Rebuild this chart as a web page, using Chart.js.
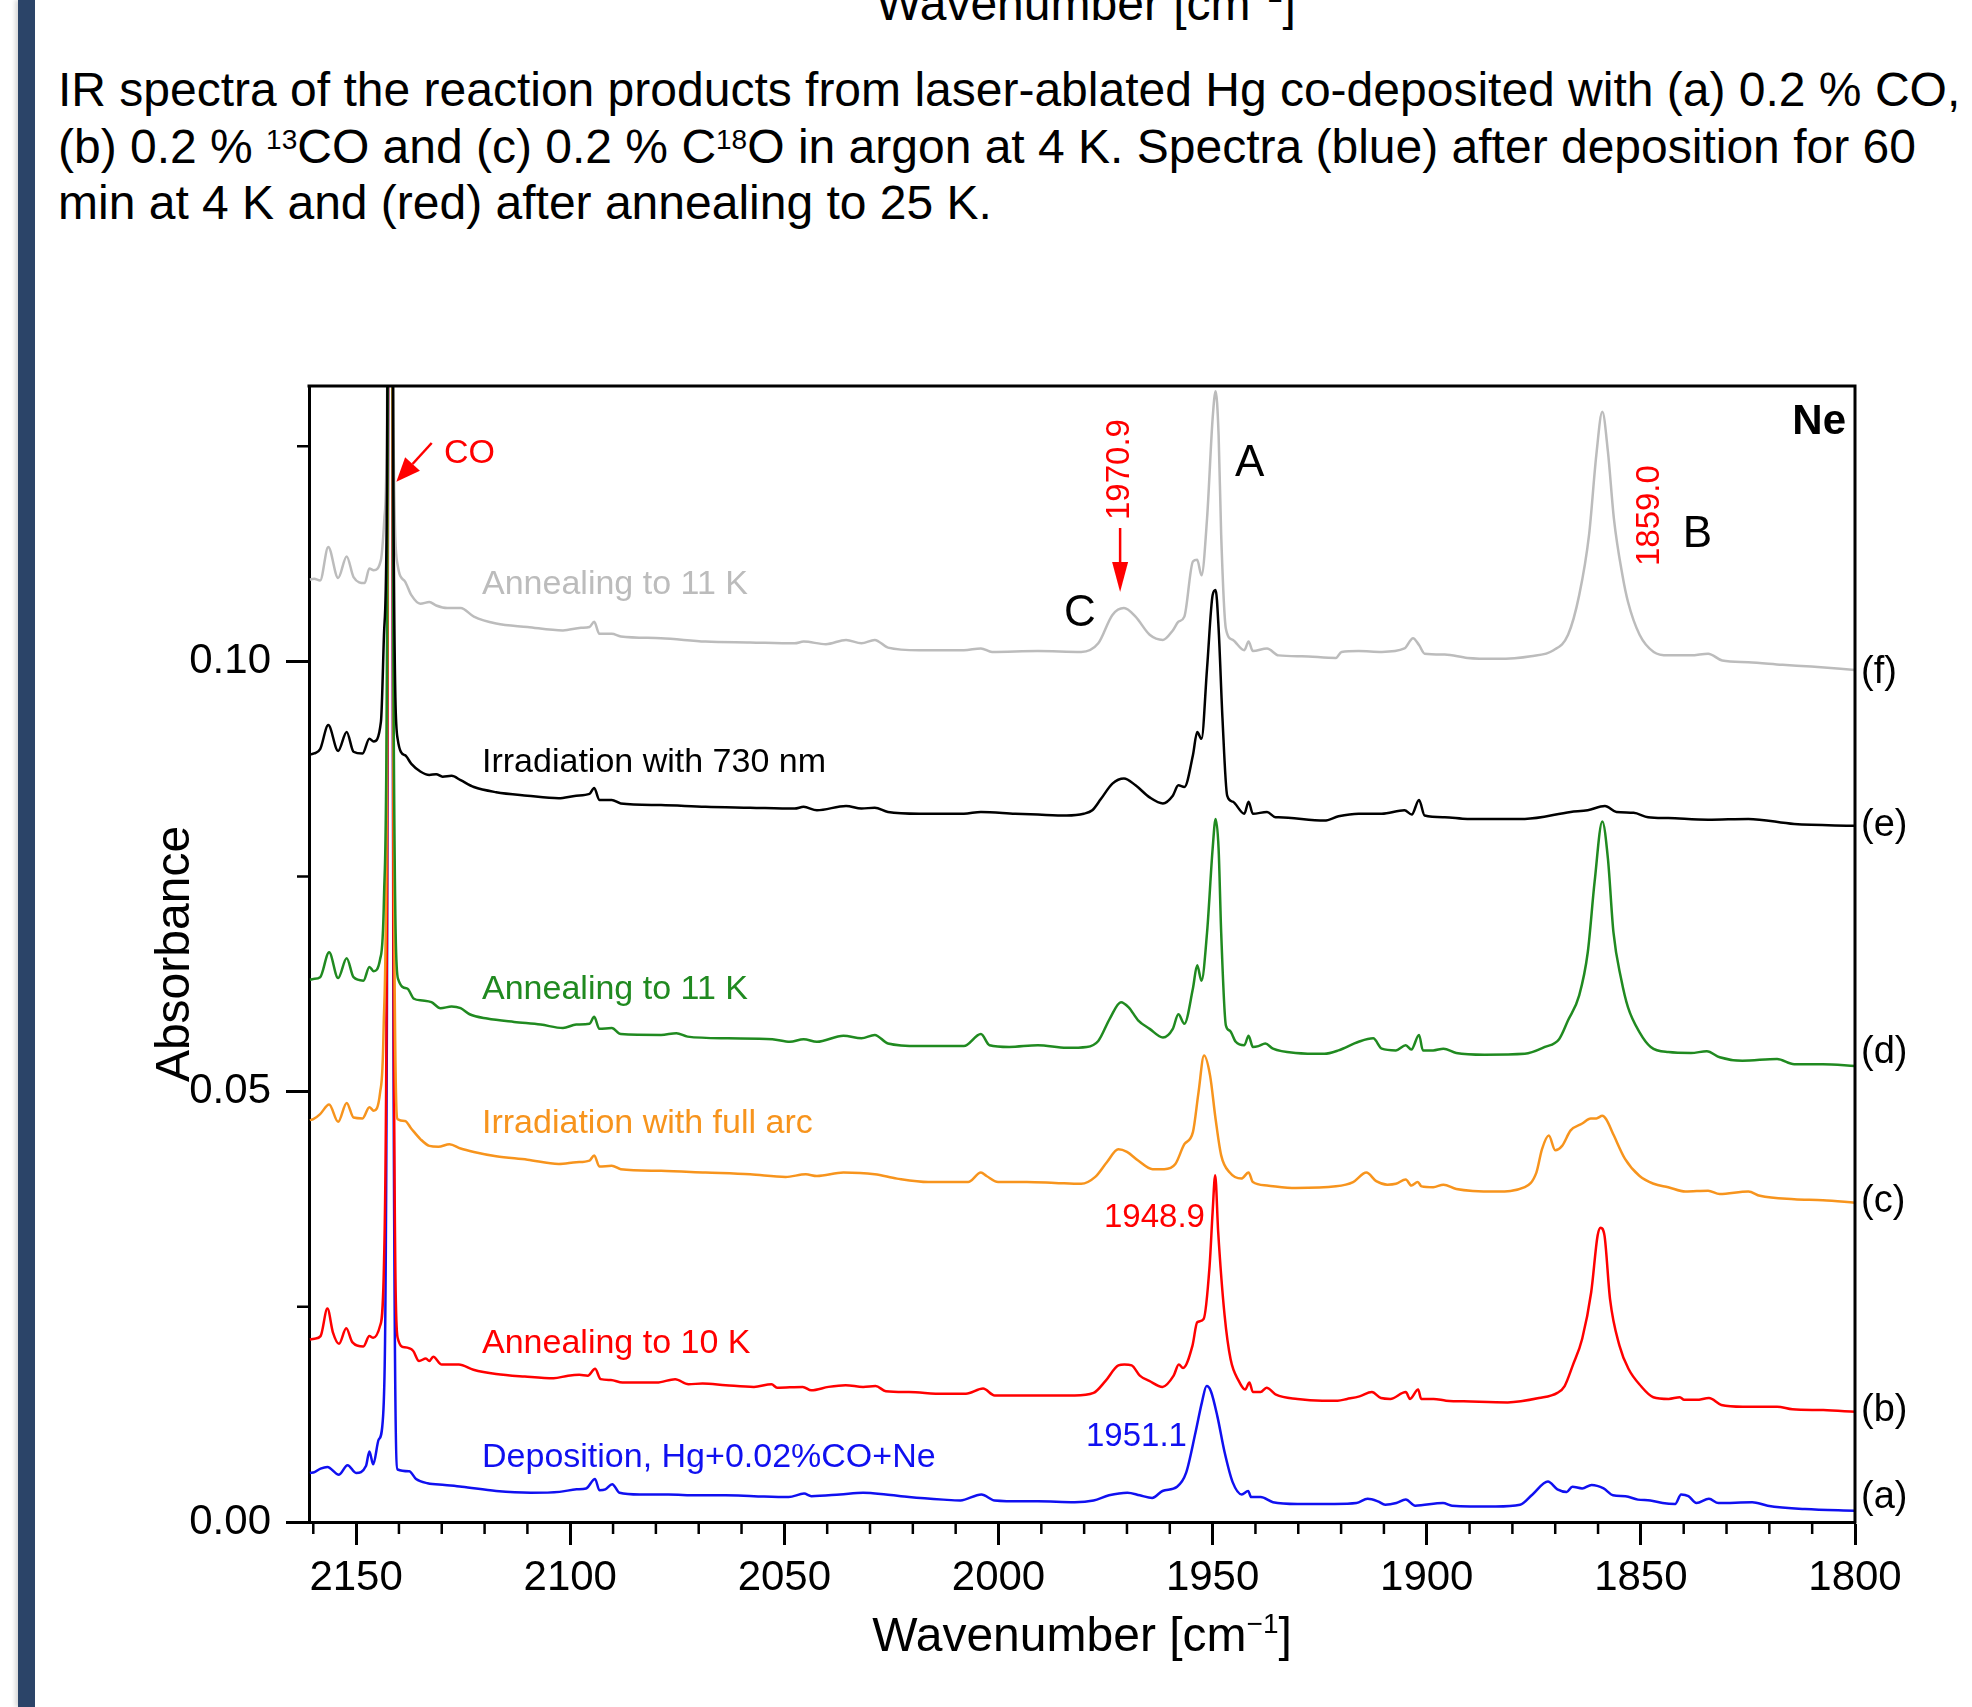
<!DOCTYPE html>
<html lang="en">
<head>
<meta charset="utf-8">
<title>IR spectra Hg + CO / Ne</title>
<script src="https://cdn.jsdelivr.net/npm/chart.js@4.4.1/dist/chart.umd.min.js"></script>
<style>
  html, body { margin: 0; padding: 0; background: #fff; }
  body {
    width: 1972px; height: 1707px;
    position: relative; overflow: hidden;
    font-family: "Liberation Sans", Arial, sans-serif;
    color: #000;
  }
  /* barra oscura del borde izquierdo */
  .barra-lateral {
    position: absolute; left: 18px; top: 0;
    width: 17px; height: 1707px;
    background: #2b4468;
    box-shadow: -3px 0 4px rgba(0,0,0,0.15);
  }
  /* título de la figura anterior, cortado arriba */
  .titulo-cortado {
    position: absolute; top: -20px; left: 1086px;
    transform: translateX(-50%);
    font-size: 48px; line-height: 48px; white-space: nowrap;
  }
  .pie-figura {
    position: absolute; left: 58px; top: 62px;
    font-size: 48px; line-height: 56.5px; white-space: nowrap;
  }
  .sup { font-size: 28px; line-height: 0; position: relative; top: -14px; }
  .sup-titulo { font-size: 28px; line-height: 0; position: relative; top: -18px; }
  #grafica { position: absolute; left: 0; top: 0; }
</style>
</head>
<body>

<div class="barra-lateral"></div>
<div class="titulo-cortado">Wavenumber [cm<span class="sup-titulo">−1</span>]</div>
<div class="pie-figura">IR spectra of the reaction products from laser-ablated Hg co-deposited with (a) 0.2 % CO,<br>(b) 0.2 % <span class="sup">13</span>CO and (c) 0.2 % C<span class="sup">18</span>O in argon at 4 K. Spectra (blue) after deposition for 60<br>min at 4 K and (red) after annealing to 25 K.</div>

<canvas id="grafica" width="1972" height="1707"></canvas>

<script>
// =============================================
// Datos: [número de onda (cm-1), absorbancia]
// =============================================

// (a) Deposition, Hg+0.02%CO+Ne
var specA = [
  [2160.8, 0.0057], [2159.7, 0.0058], [2158.3, 0.0062], [2156.7, 0.0064], [2154.0, 0.0055],
  [2152.0, 0.0066], [2150.0, 0.0057], [2147.7, 0.0065], [2146.9, 0.0082], [2146.0, 0.0067],
  [2144.7, 0.0096], [2143.7, 0.0123], [2142.8, 0.060], [2142.0, 0.25], [2141.3, 0.060],
  [2140.3, 0.0061], [2137.6, 0.0059], [2136.0, 0.0050], [2133.3, 0.0045], [2129.3, 0.0043],
  [2125.3, 0.0041], [2117.3, 0.0036], [2109.2, 0.0034], [2102.5, 0.0035], [2098.5, 0.0038],
  [2096.3, 0.0039], [2094.2, 0.0050], [2093.2, 0.0037], [2091.8, 0.0038], [2090.2, 0.0044],
  [2088.5, 0.0034], [2083.8, 0.0032], [2077.1, 0.0032], [2070.4, 0.0031], [2063.7, 0.0031],
  [2057.1, 0.0030], [2049.0, 0.0029], [2045.4, 0.0033], [2043.7, 0.0030], [2037.0, 0.0032],
  [2031.6, 0.0034], [2026.3, 0.0032], [2020.9, 0.0029], [2012.9, 0.0026], [2008.9, 0.0025],
  [2004.0, 0.0032], [2000.9, 0.0025], [1994.2, 0.0024], [1990.8, 0.0024], [1982.2, 0.0023],
  [1977.8, 0.0025], [1974.2, 0.0031], [1969.9, 0.0034], [1967.0, 0.0031], [1964.1, 0.0028],
  [1961.7, 0.0036], [1958.3, 0.0041], [1956.2, 0.0057], [1954.0, 0.0104], [1952.5, 0.0139],
  [1951.4, 0.0158], [1950.4, 0.0152], [1948.9, 0.0123], [1947.2, 0.0081], [1945.3, 0.0046],
  [1943.2, 0.0032], [1941.7, 0.0036], [1941.0, 0.0029], [1938.8, 0.0029], [1935.9, 0.0023],
  [1930.2, 0.0021], [1921.5, 0.0021], [1916.4, 0.0022], [1913.8, 0.0027], [1911.4, 0.0024],
  [1909.7, 0.0020], [1907.1, 0.0022], [1904.9, 0.0026], [1902.7, 0.0019], [1896.2, 0.0022],
  [1894.1, 0.0019], [1883.9, 0.0018], [1878.2, 0.0020], [1875.3, 0.0032], [1871.7, 0.0047],
  [1869.5, 0.0038], [1867.3, 0.0035], [1866.0, 0.0041], [1863.7, 0.0039], [1861.5, 0.0043],
  [1858.7, 0.0039], [1856.5, 0.0031], [1853.6, 0.0030], [1850.7, 0.0026], [1847.8, 0.0025],
  [1844.9, 0.0022], [1842.0, 0.0021], [1840.6, 0.0032], [1838.9, 0.0030], [1837.0, 0.0022],
  [1834.1, 0.0027], [1831.9, 0.0022], [1824.0, 0.0023], [1820.4, 0.0019], [1811.7, 0.0015],
  [1800.0, 0.0013]
];

// (b) Annealing to 10 K
var specB = [
  [2160.8, 0.0212], [2159.7, 0.0213], [2158.3, 0.0216], [2156.7, 0.0248], [2155.4, 0.0220],
  [2154.0, 0.0207], [2152.3, 0.0225], [2150.9, 0.0209], [2148.3, 0.0204], [2146.9, 0.0216],
  [2146.0, 0.0214], [2144.4, 0.0228], [2143.5, 0.0298], [2142.8, 0.070], [2142.0, 0.25],
  [2141.3, 0.070], [2140.3, 0.0214], [2138.7, 0.0203], [2136.7, 0.0199], [2135.3, 0.0187],
  [2133.7, 0.0190], [2132.9, 0.0187], [2132.0, 0.0192], [2130.0, 0.0183], [2128.0, 0.0183],
  [2126.0, 0.0183], [2122.6, 0.0177], [2117.3, 0.0172], [2110.6, 0.0169], [2103.9, 0.0167],
  [2100.5, 0.0170], [2097.9, 0.0171], [2095.9, 0.0170], [2094.2, 0.0178], [2092.9, 0.0166],
  [2090.5, 0.0165], [2087.8, 0.0162], [2079.8, 0.0162], [2075.5, 0.0166], [2072.4, 0.0160],
  [2069.1, 0.0161], [2063.7, 0.0159], [2057.1, 0.0157], [2053.0, 0.0160], [2051.7, 0.0156],
  [2045.7, 0.0157], [2043.7, 0.0153], [2039.7, 0.0157], [2035.7, 0.0159], [2031.6, 0.0157],
  [2028.7, 0.0158], [2026.3, 0.0152], [2020.9, 0.0151], [2012.9, 0.0149], [2007.6, 0.0149],
  [2003.6, 0.0155], [2000.9, 0.0147], [1994.2, 0.0147], [1990.8, 0.0147], [1982.2, 0.0147],
  [1977.8, 0.0150], [1975.0, 0.0164], [1972.0, 0.0182], [1970.6, 0.0183], [1968.9, 0.0182],
  [1967.0, 0.0170], [1964.8, 0.0164], [1961.7, 0.0157], [1959.1, 0.0170], [1957.9, 0.0183],
  [1956.9, 0.0179], [1954.7, 0.0205], [1953.6, 0.0232], [1952.1, 0.0236], [1950.7, 0.0298],
  [1950.0, 0.0360], [1949.4, 0.0403], [1948.7, 0.0337], [1947.2, 0.0240], [1945.8, 0.0189],
  [1943.9, 0.0164], [1942.4, 0.0154], [1941.4, 0.0162], [1940.6, 0.0151], [1938.8, 0.0151],
  [1937.4, 0.0156], [1935.2, 0.0148], [1930.2, 0.0143], [1924.4, 0.0141], [1920.8, 0.0141],
  [1918.6, 0.0143], [1915.7, 0.0146], [1912.8, 0.0151], [1910.7, 0.0144], [1908.5, 0.0143],
  [1904.9, 0.0151], [1903.9, 0.0143], [1902.0, 0.0154], [1901.3, 0.0143], [1898.4, 0.0143],
  [1895.5, 0.0141], [1889.7, 0.0140], [1881.1, 0.0139], [1873.8, 0.0144], [1869.5, 0.0150],
  [1867.8, 0.0158], [1865.9, 0.0182], [1863.7, 0.0213], [1861.6, 0.0267], [1860.1, 0.0333],
  [1859.4, 0.0342], [1858.5, 0.0333], [1857.2, 0.0259], [1855.0, 0.0205], [1852.9, 0.0178],
  [1850.0, 0.0158], [1847.1, 0.0145], [1843.5, 0.0143], [1840.9, 0.0145], [1839.9, 0.0142],
  [1837.0, 0.0142], [1834.1, 0.0144], [1831.2, 0.0136], [1826.2, 0.0134], [1818.2, 0.0134],
  [1814.6, 0.0131], [1807.4, 0.0130], [1800.0, 0.0128]
];

// (c) Irradiation with full arc
var specC = [
  [2160.8, 0.0467], [2160.0, 0.0468], [2158.4, 0.0474], [2156.3, 0.0485], [2154.2, 0.0465],
  [2152.2, 0.0487], [2150.6, 0.0470], [2148.5, 0.0469], [2146.9, 0.0482], [2145.9, 0.0478],
  [2144.4, 0.0499], [2143.6, 0.0569], [2142.8, 0.090], [2142.0, 0.25], [2141.3, 0.090],
  [2140.3, 0.0468], [2138.6, 0.0466], [2137.1, 0.0457], [2135.0, 0.0445], [2132.9, 0.0437],
  [2130.8, 0.0436], [2128.2, 0.0439], [2125.6, 0.0434], [2122.5, 0.0430], [2117.3, 0.0425],
  [2110.0, 0.0421], [2102.7, 0.0416], [2098.6, 0.0418], [2095.5, 0.0420], [2094.4, 0.0426],
  [2093.2, 0.0413], [2090.3, 0.0414], [2088.2, 0.0410], [2078.8, 0.0408], [2068.4, 0.0406],
  [2058.0, 0.0404], [2049.7, 0.0401], [2045.0, 0.0404], [2042.4, 0.0402], [2036.2, 0.0406],
  [2028.9, 0.0404], [2023.7, 0.0399], [2016.4, 0.0395], [2007.1, 0.0395], [2004.1, 0.0406],
  [2002.8, 0.0402], [2000.1, 0.0395], [1993.4, 0.0395], [1986.8, 0.0394], [1980.7, 0.0393],
  [1977.4, 0.0401], [1974.7, 0.0418], [1972.0, 0.0433], [1970.0, 0.0430], [1967.4, 0.0420],
  [1964.0, 0.0410], [1961.3, 0.0410], [1958.7, 0.0416], [1956.6, 0.0439], [1954.6, 0.0453],
  [1953.3, 0.0499], [1952.0, 0.0542], [1950.6, 0.0519], [1949.3, 0.0468], [1948.0, 0.0426],
  [1946.0, 0.0406], [1943.3, 0.0399], [1941.6, 0.0406], [1940.6, 0.0395], [1937.3, 0.0391],
  [1930.6, 0.0388], [1921.2, 0.0390], [1917.2, 0.0395], [1914.1, 0.0406], [1911.8, 0.0396],
  [1909.2, 0.0392], [1907.2, 0.0393], [1904.9, 0.0398], [1903.6, 0.0391], [1902.1, 0.0395],
  [1901.2, 0.0390], [1898.5, 0.0389], [1896.1, 0.0392], [1893.1, 0.0387], [1883.8, 0.0384],
  [1877.1, 0.0389], [1874.4, 0.0406], [1873.1, 0.0433], [1871.5, 0.0449], [1870.0, 0.0432],
  [1868.4, 0.0437], [1866.4, 0.0455], [1863.7, 0.0463], [1861.7, 0.0469], [1860.4, 0.0469],
  [1859.0, 0.0472], [1858.1, 0.0468], [1856.3, 0.0449], [1853.7, 0.0422], [1850.3, 0.0402],
  [1847.0, 0.0393], [1843.6, 0.0389], [1839.6, 0.0384], [1834.3, 0.0385], [1831.6, 0.0381],
  [1824.9, 0.0384], [1822.2, 0.0379], [1814.2, 0.0375], [1807.5, 0.0374], [1800.0, 0.0371]
];

// (d) Annealing to 11 K
var specD = [
  [2160.8, 0.0630], [2160.0, 0.0631], [2158.4, 0.0633], [2156.3, 0.0662], [2154.2, 0.0632],
  [2152.2, 0.0655], [2150.6, 0.0633], [2148.3, 0.0629], [2146.9, 0.0645], [2145.9, 0.0640],
  [2144.4, 0.0654], [2143.5, 0.0724], [2142.8, 0.100], [2142.0, 0.25], [2141.3, 0.100],
  [2140.2, 0.0631], [2138.1, 0.0620], [2136.5, 0.0608], [2134.5, 0.0606], [2132.4, 0.0604],
  [2130.3, 0.0597], [2127.7, 0.0599], [2125.6, 0.0597], [2123.5, 0.0590], [2119.4, 0.0585],
  [2113.1, 0.0581], [2106.9, 0.0578], [2101.7, 0.0574], [2098.6, 0.0578], [2095.5, 0.0579],
  [2094.4, 0.0587], [2093.2, 0.0573], [2090.3, 0.0574], [2088.2, 0.0567], [2078.8, 0.0566],
  [2075.2, 0.0568], [2072.6, 0.0564], [2063.2, 0.0562], [2052.8, 0.0561], [2048.7, 0.0558],
  [2045.5, 0.0561], [2042.4, 0.0558], [2036.2, 0.0565], [2032.0, 0.0562], [2028.9, 0.0566],
  [2025.8, 0.0556], [2018.5, 0.0553], [2008.1, 0.0553], [2004.1, 0.0567], [2002.1, 0.0554],
  [1997.5, 0.0552], [1990.8, 0.0554], [1984.1, 0.0551], [1979.4, 0.0552], [1976.7, 0.0559],
  [1974.0, 0.0585], [1971.4, 0.0604], [1969.6, 0.0598], [1967.4, 0.0583], [1964.7, 0.0573],
  [1961.6, 0.0563], [1959.3, 0.0573], [1958.0, 0.0590], [1956.6, 0.0579], [1954.6, 0.0620],
  [1953.6, 0.0647], [1952.6, 0.0629], [1951.3, 0.0685], [1950.0, 0.0782], [1949.3, 0.0817],
  [1948.6, 0.0782], [1948.0, 0.0685], [1946.9, 0.0577], [1946.0, 0.0571], [1944.6, 0.0558],
  [1942.6, 0.0554], [1941.6, 0.0565], [1940.6, 0.0552], [1939.3, 0.0553], [1937.7, 0.0556],
  [1935.9, 0.0550], [1930.6, 0.0545], [1923.9, 0.0544], [1920.6, 0.0548], [1915.9, 0.0558],
  [1912.5, 0.0562], [1910.5, 0.0550], [1907.2, 0.0548], [1904.9, 0.0554], [1903.6, 0.0549],
  [1901.8, 0.0566], [1900.9, 0.0548], [1898.5, 0.0548], [1896.1, 0.0550], [1893.1, 0.0545],
  [1886.5, 0.0543], [1877.1, 0.0544], [1872.4, 0.0552], [1869.1, 0.0561], [1867.0, 0.0583],
  [1864.4, 0.0612], [1862.4, 0.0662], [1860.8, 0.0744], [1859.0, 0.0814], [1857.7, 0.0771],
  [1856.4, 0.0685], [1854.6, 0.0631], [1853.0, 0.0598], [1850.3, 0.0569], [1847.7, 0.0552],
  [1843.6, 0.0546], [1838.3, 0.0545], [1834.6, 0.0547], [1831.6, 0.0540], [1826.3, 0.0536],
  [1818.2, 0.0538], [1814.2, 0.0532], [1807.5, 0.0532], [1800.0, 0.0530]
];

// (e) Irradiation with 730 nm
var specE = [
  [2160.8, 0.0892], [2159.8, 0.0893], [2158.4, 0.0898], [2156.5, 0.0926], [2154.2, 0.0896],
  [2152.2, 0.0918], [2150.6, 0.0895], [2148.5, 0.0893], [2146.9, 0.0910], [2145.9, 0.0907],
  [2144.2, 0.0930], [2143.5, 0.1030], [2142.8, 0.120], [2142.0, 0.25], [2141.3, 0.120],
  [2140.3, 0.0910], [2138.6, 0.0891], [2137.1, 0.0881], [2135.0, 0.0872], [2132.9, 0.0868],
  [2131.3, 0.0869], [2129.8, 0.0866], [2127.7, 0.0867], [2125.6, 0.0862], [2122.5, 0.0854],
  [2117.3, 0.0848], [2110.0, 0.0844], [2102.7, 0.0841], [2098.6, 0.0844], [2095.5, 0.0846],
  [2094.4, 0.0853], [2093.2, 0.0839], [2090.3, 0.0839], [2088.2, 0.0835], [2078.8, 0.0833],
  [2068.4, 0.0831], [2058.0, 0.0830], [2047.6, 0.0829], [2045.5, 0.0831], [2042.4, 0.0827],
  [2035.6, 0.0832], [2032.0, 0.0829], [2028.9, 0.0830], [2025.8, 0.0825], [2018.5, 0.0823],
  [2008.1, 0.0823], [2004.1, 0.0825], [1996.1, 0.0823], [1990.8, 0.0822], [1984.1, 0.0821],
  [1980.1, 0.0823], [1978.1, 0.0827], [1976.1, 0.0840], [1973.4, 0.0858], [1970.7, 0.0864],
  [1968.0, 0.0856], [1964.7, 0.0842], [1961.6, 0.0835], [1959.3, 0.0844], [1958.0, 0.0856],
  [1956.6, 0.0854], [1954.6, 0.0891], [1953.6, 0.0918], [1952.6, 0.0910], [1951.3, 0.0992],
  [1950.0, 0.1077], [1949.3, 0.1083], [1948.6, 0.1038], [1947.7, 0.0934], [1946.6, 0.0844],
  [1945.3, 0.0837], [1942.6, 0.0823], [1941.6, 0.0837], [1940.6, 0.0823], [1937.3, 0.0825],
  [1935.3, 0.0819], [1934.6, 0.0819], [1923.9, 0.0815], [1920.6, 0.0820], [1915.9, 0.0823],
  [1910.5, 0.0823], [1905.2, 0.0827], [1903.5, 0.0822], [1901.8, 0.0839], [1900.5, 0.0821],
  [1895.8, 0.0819], [1890.5, 0.0817], [1877.1, 0.0817], [1866.4, 0.0825], [1862.4, 0.0827],
  [1858.4, 0.0832], [1855.7, 0.0825], [1851.7, 0.0824], [1848.3, 0.0819], [1843.6, 0.0818],
  [1834.3, 0.0816], [1824.9, 0.0817], [1814.2, 0.0811], [1800.0, 0.0809]
];

// (f) Annealing to 11 K (gris)
var specF = [
  [2160.8, 0.1095], [2159.8, 0.1096], [2158.4, 0.1094], [2156.5, 0.1133], [2154.2, 0.1097],
  [2152.2, 0.1122], [2150.6, 0.1098], [2148.0, 0.1091], [2146.9, 0.1108], [2145.9, 0.1106],
  [2144.2, 0.1118], [2143.4, 0.1166], [2142.8, 0.128], [2142.0, 0.25], [2141.3, 0.128],
  [2140.3, 0.1112], [2138.6, 0.1093], [2137.1, 0.1077], [2135.0, 0.1067], [2132.9, 0.1069],
  [2131.3, 0.1065], [2128.7, 0.1062], [2125.6, 0.1062], [2122.5, 0.1052], [2117.3, 0.1044],
  [2110.0, 0.1040], [2101.7, 0.1036], [2097.5, 0.1039], [2095.5, 0.1040], [2094.4, 0.1046],
  [2093.2, 0.1032], [2090.3, 0.1032], [2088.2, 0.1029], [2078.8, 0.1027], [2068.4, 0.1023],
  [2058.0, 0.1022], [2047.6, 0.1021], [2045.5, 0.1023], [2040.3, 0.1020], [2035.6, 0.1025],
  [2032.0, 0.1021], [2028.9, 0.1025], [2025.8, 0.1016], [2018.5, 0.1013], [2008.1, 0.1013],
  [2004.1, 0.1015], [2001.5, 0.1011], [1990.8, 0.1012], [1980.7, 0.1011], [1976.7, 0.1021],
  [1973.4, 0.1054], [1970.7, 0.1062], [1968.0, 0.1052], [1964.7, 0.1031], [1961.6, 0.1025],
  [1959.3, 0.1036], [1958.0, 0.1046], [1956.6, 0.1052], [1954.6, 0.1116], [1953.6, 0.1118],
  [1952.6, 0.1100], [1951.3, 0.1166], [1950.0, 0.1282], [1949.3, 0.1314], [1948.6, 0.1263],
  [1948.0, 0.1147], [1946.9, 0.1038], [1945.3, 0.1025], [1942.6, 0.1013], [1941.6, 0.1023],
  [1940.6, 0.1012], [1937.3, 0.1015], [1934.6, 0.1007], [1929.2, 0.1006], [1921.2, 0.1004],
  [1919.9, 0.1011], [1915.9, 0.1012], [1910.5, 0.1011], [1905.2, 0.1015], [1903.2, 0.1027],
  [1901.8, 0.1019], [1900.5, 0.1009], [1895.8, 0.1008], [1890.5, 0.1004], [1883.8, 0.1003],
  [1875.7, 0.1006], [1870.4, 0.1013], [1867.0, 0.1031], [1864.4, 0.1077], [1862.1, 0.1147],
  [1860.4, 0.1240], [1859.0, 0.1290], [1857.7, 0.1244], [1856.3, 0.1166], [1854.3, 0.1100],
  [1853.0, 0.1069], [1850.3, 0.1031], [1847.0, 0.1011], [1843.6, 0.1007], [1838.3, 0.1007],
  [1834.3, 0.1009], [1831.0, 0.1001], [1824.9, 0.0999], [1816.9, 0.0996], [1810.2, 0.0994],
  [1800.0, 0.0990]
];

var nombresSerie = ['Deposition, Hg+0.02%CO+Ne', 'Annealing to 10 K', 'Irradiation with full arc',
                    'Annealing to 11 K', 'Irradiation with 730 nm', 'Annealing to 11 K'];
var letrasSerie  = ['(a)', '(b)', '(c)', '(d)', '(e)', '(f)'];

// marcas de los ejes
var ticksX        = [2150, 2100, 2050, 2000, 1950, 1900, 1850, 1800];
var ticksXMenores = [2160, 2140, 2130, 2120, 2110, 2090, 2080, 2070, 2060, 2040, 2030, 2020, 2010,
                     1990, 1980, 1970, 1960, 1940, 1930, 1920, 1910, 1890, 1880, 1870, 1860,
                     1840, 1830, 1820, 1810];
var ticksY        = [0.00, 0.05, 0.10];
var ticksYMenores = [0.025, 0.075, 0.125];

// ——————————————————————————————————————————
// Estilos
// ——————————————————————————————————————————
var FUENTE = '"Liberation Sans", Arial, sans-serif';
var colores = ['#1010f0', '#ff0000', '#f7941d', '#208a20', '#000000', '#bcbcbc'];
// orden de dibujo: número mayor = se dibuja antes (queda debajo)
var ordenDibujo = [5, 4, 3, 1, 0, 2];

Chart.defaults.font.family = FUENTE;
Chart.defaults.color = '#000';

function aPuntos(serie) {
  return serie.map(function (p) { return { x: p[0], y: p[1] }; });
}

var series = [specA, specB, specC, specD, specE, specF];

var datasets = series.map(function (s, i) {
  return {
    label: letrasSerie[i],
    data: aPuntos(s),
    borderColor: colores[i],
    borderWidth: 2.5,
    pointRadius: 0,
    cubicInterpolationMode: 'monotone',
    order: ordenDibujo[i],
    fill: false
  };
});

// ——————————————————————————————————————————
// Texto auxiliar en coordenadas de datos
// ——————————————————————————————————————————
function textoEn(chart, str, wn, ab, o) {
  var ctx = chart.ctx;
  var px = chart.scales.x.getPixelForValue(wn);
  var py = chart.scales.y.getPixelForValue(ab);
  ctx.save();
  ctx.font = o.font;
  ctx.fillStyle = o.color || '#000';
  ctx.textAlign = o.align || 'left';
  ctx.textBaseline = o.baseline || 'alphabetic';
  ctx.translate(px, py);
  if (o.rot) ctx.rotate(o.rot);
  ctx.fillText(str, 0, 0);
  ctx.restore();
}

function flecha(chart, wn1, ab1, wn2, ab2, color, largo, ancho) {
  var ctx = chart.ctx;
  var x1 = chart.scales.x.getPixelForValue(wn1), y1 = chart.scales.y.getPixelForValue(ab1);
  var x2 = chart.scales.x.getPixelForValue(wn2), y2 = chart.scales.y.getPixelForValue(ab2);
  var ang = Math.atan2(y2 - y1, x2 - x1);
  var bx = x2 - Math.cos(ang) * largo, by = y2 - Math.sin(ang) * largo;
  ctx.save();
  ctx.strokeStyle = color; ctx.fillStyle = color; ctx.lineWidth = 2.5;
  ctx.beginPath(); ctx.moveTo(x1, y1); ctx.lineTo(bx, by); ctx.stroke();
  ctx.beginPath();
  ctx.moveTo(x2, y2);
  ctx.lineTo(bx + Math.sin(ang) * ancho, by - Math.cos(ang) * ancho);
  ctx.lineTo(bx - Math.sin(ang) * ancho, by + Math.cos(ang) * ancho);
  ctx.closePath(); ctx.fill();
  ctx.restore();
}

// ——————————————————————————————————————————
// Plugin: marco, marcas menores, rótulos y anotaciones
// ——————————————————————————————————————————
var adornos = {
  id: 'adornos',
  afterDraw: function (chart) {
    var ctx = chart.ctx, a = chart.chartArea;
    var sx = chart.scales.x, sy = chart.scales.y;

    ctx.save();
    // marco superior y derecho
    ctx.strokeStyle = '#000';
    ctx.lineWidth = 3;
    ctx.beginPath();
    ctx.moveTo(a.left - 1.5, a.top);
    ctx.lineTo(a.right, a.top);
    ctx.lineTo(a.right, a.bottom + 1.5);
    ctx.stroke();

    // marcas menores
    ctx.lineWidth = 2.5;
    ctx.beginPath();
    ticksXMenores.forEach(function (v) {
      var px = sx.getPixelForValue(v);
      ctx.moveTo(px, a.bottom); ctx.lineTo(px, a.bottom + 12);
    });
    ticksYMenores.forEach(function (v) {
      var py = sy.getPixelForValue(v);
      ctx.moveTo(a.left, py); ctx.lineTo(a.left - 12, py);
    });
    ctx.stroke();

    // título del eje x con superíndice
    var cx = (a.left + a.right) / 2, base = a.bottom + 129;
    var t1 = 'Wavenumber [cm', t2 = '\u22121', t3 = ']';
    ctx.fillStyle = '#000';
    ctx.textBaseline = 'alphabetic';
    ctx.textAlign = 'left';
    ctx.font = '48px ' + FUENTE;
    var w1 = ctx.measureText(t1).width, w3 = ctx.measureText(t3).width;
    ctx.font = '28px ' + FUENTE;
    var w2 = ctx.measureText(t2).width;
    var x0 = cx - (w1 + w2 + w3) / 2;
    ctx.font = '48px ' + FUENTE;
    ctx.fillText(t1, x0, base);
    ctx.fillText(t3, x0 + w1 + w2, base);
    ctx.font = '28px ' + FUENTE;
    ctx.fillText(t2, x0 + w1, base - 18);

    // letras (a)-(f) a la derecha del marco
    var posLetras = [0.0029, 0.0130, 0.0372, 0.0546, 0.0809, 0.0987];
    ctx.font = '38px ' + FUENTE;
    ctx.textBaseline = 'middle';
    letrasSerie.forEach(function (l, i) {
      ctx.fillText(l, a.right + 6, sy.getPixelForValue(posLetras[i]));
    });
    ctx.restore();

    // nombres de las series
    var posNombres = [0.00639, 0.01964, 0.04520, 0.06077, 0.08715, 0.10783];
    nombresSerie.forEach(function (n, i) {
      textoEn(chart, n, 2120.6, posNombres[i], { font: '34px ' + FUENTE, color: colores[i] });
    });

    // anotaciones
    var rojo = '#ff0000';
    textoEn(chart, 'CO', 2129.5, 0.12305, { font: '34px ' + FUENTE, color: rojo });
    flecha(chart, 2132.35, 0.12538, 2140.6, 0.12088, rojo, 24, 10);

    textoEn(chart, '1970.9', 1971.6, 0.11643, { font: '33px ' + FUENTE, color: rojo, baseline: 'middle', rot: -Math.PI / 2 });
    flecha(chart, 1971.6, 0.1155, 1971.6, 0.10806, rojo, 30, 8);

    textoEn(chart, '1859.0', 1847.9, 0.11108, { font: '33px ' + FUENTE, color: rojo, baseline: 'middle', rot: -Math.PI / 2 });
    textoEn(chart, '1948.9', 1951.8, 0.03428, { font: '33px ' + FUENTE, color: rojo, align: 'right' });
    textoEn(chart, '1951.1', 1956.0, 0.00883, { font: '33px ' + FUENTE, color: colores[0], align: 'right' });

    textoEn(chart, 'A', 1944.8, 0.12154, { font: '44px ' + FUENTE });
    textoEn(chart, 'C', 1984.7, 0.10411, { font: '44px ' + FUENTE });
    textoEn(chart, 'B', 1840.2, 0.11329, { font: '44px ' + FUENTE });
    textoEn(chart, 'Ne', 1802.1, 0.12642, { font: 'bold 42px ' + FUENTE, align: 'right' });
  }
};

// ——————————————————————————————————————————
// Gráfica
// ——————————————————————————————————————————
new Chart(document.getElementById('grafica'), {
  type: 'line',
  data: { datasets: datasets },
  options: {
    responsive: false,
    animation: false,
    devicePixelRatio: 1,
    layout: { padding: { left: 147, right: 117, top: 386, bottom: 0 } },
    plugins: { legend: { display: false }, tooltip: { enabled: false } },
    scales: {
      x: {
        type: 'linear',
        reverse: true,
        min: 1800,
        max: 2161,
        afterBuildTicks: function (s) { s.ticks = ticksX.map(function (v) { return { value: v }; }); },
        afterFit: function (s) { s.height = 185; },
        ticks: { font: { size: 42 }, padding: 8, maxRotation: 0, autoSkip: false,
                 callback: function (v) { return String(v); } },
        grid: { drawOnChartArea: false, tickLength: 23, tickWidth: 3, tickColor: '#000' },
        border: { color: '#000', width: 3 },
        title: { display: false }
      },
      y: {
        min: 0,
        max: 0.132,
        afterBuildTicks: function (s) { s.ticks = ticksY.map(function (v) { return { value: v }; }); },
        afterFit: function (s) { s.width = 162; },
        ticks: { font: { size: 42 }, padding: 15,
                 callback: function (v) { return v.toFixed(2); } },
        grid: { drawOnChartArea: false, tickLength: 23, tickWidth: 3, tickColor: '#000' },
        border: { color: '#000', width: 3 },
        title: { display: true, text: 'Absorbance', font: { size: 48 }, padding: 0 }
      }
    }
  },
  plugins: [adornos]
});
</script>
</body>
</html>
